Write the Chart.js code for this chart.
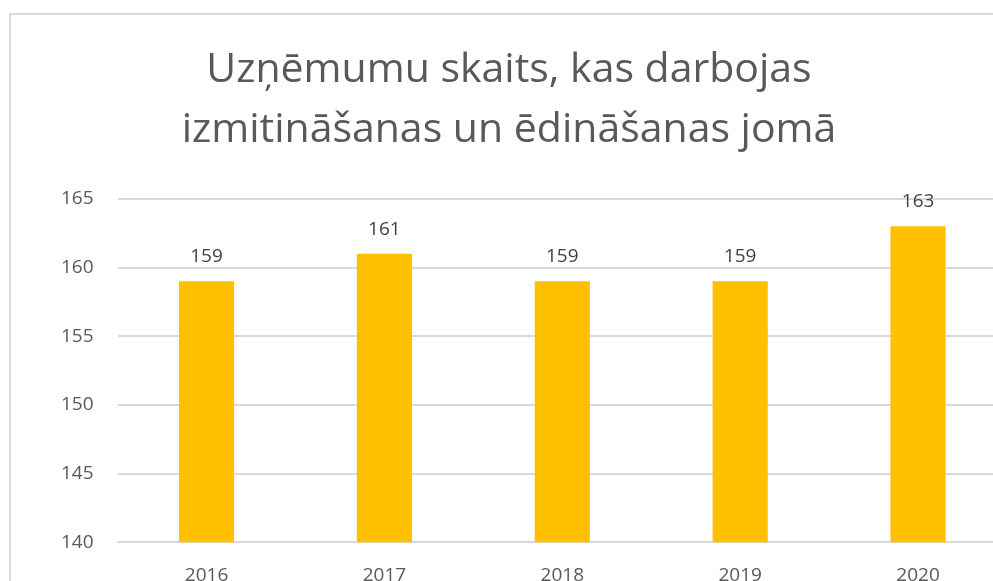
<!DOCTYPE html>
<html>
<head>
<meta charset="utf-8">
<script src="https://cdn.jsdelivr.net/npm/chart.js@4"></script>
<style>
    html, body { margin: 0; padding: 0; background: #fff; overflow: hidden; }
    #frame { position: absolute; left: 9px; top: 13px; width: 1000px; height: 600px; border: 2px solid #d9d9d9; box-sizing: border-box; }
    #chart { display: block; }
</style>
</head>
<body>
<div id="frame"><canvas id="chart"></canvas></div>
<script>
const years = ['2016', '2017', '2018', '2019', '2020']
const companies = [159, 161, 159, 159, 163]
const title_lines = ['Uzņēmumu skaits, kas darbojas', 'izmitināšanas un ēdināšanas jomā']

const font_family = "'Open Sans', 'Noto Sans', sans-serif"

// draws the value above each bar
const value_labels = {
    id: 'value_labels',
    afterDatasetsDraw(chart) {
        const ctx = chart.ctx
        const meta = chart.getDatasetMeta(0)
        ctx.save()
        ctx.font = '19px ' + font_family
        ctx.fillStyle = '#404040'
        ctx.textAlign = 'center'
        ctx.textBaseline = 'bottom'
        meta.data.forEach((bar, i) => {
            ctx.fillText(String(companies[i]), bar.x, bar.y - 15)
        })
        ctx.restore()
    }
}

new Chart(document.getElementById('chart'), {
    type: 'bar',
    data: {
        labels: years,
        datasets: [{
            data: companies,
            backgroundColor: '#ffc000',
            barPercentage: 0.31,
            categoryPercentage: 1
        }]
    },
    plugins: [value_labels],
    options: {
        responsive: true,
        maintainAspectRatio: false,
        animation: false,
        layout: { padding: { left: 0, right: 0, top: 0, bottom: 10 } },
        plugins: {
            legend: { display: false },
            tooltip: { enabled: false },
            title: {
                display: true,
                text: title_lines,
                color: '#595959',
                font: { family: font_family, size: 41, weight: 'normal', lineHeight: 1.45 },
                padding: { top: 26, bottom: 39 }
            }
        },
        scales: {
            x: {
                grid: { display: false },
                border: { display: true, color: '#d9d9d9', width: 2 },
                ticks: { color: '#595959', font: { family: font_family, size: 19 }, padding: 14 }
            },
            y: {
                min: 140,
                max: 165,
                // keep the empty space left of the tick labels inside the axis, so the title stays centred
                afterFit: (scale) => { scale.width += 26 },
                ticks: { stepSize: 5, color: '#595959', font: { family: font_family, size: 19 }, padding: 24 },
                grid: { color: '#d9d9d9', lineWidth: 2, drawTicks: false },
                border: { display: false }
            }
        }
    }
})
</script>
</body>
</html>
